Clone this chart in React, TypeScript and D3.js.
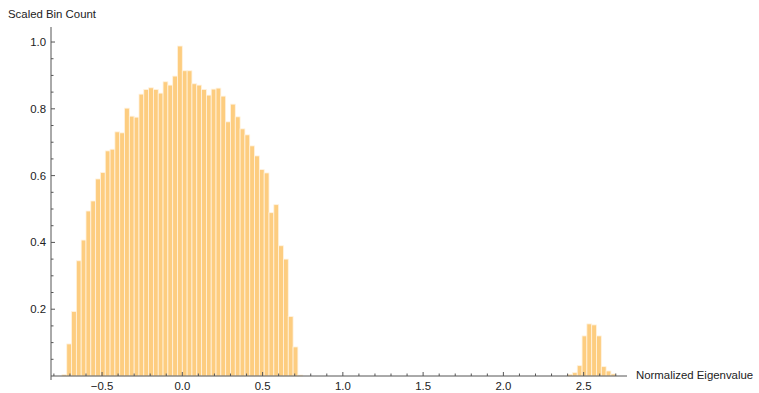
import * as d3 from 'd3';

// histogram bins: width 0.03, lower edges start at these values
const binWidth = 0.03;
const bulkStart = -0.75;
const bulkCounts = [
  0.004, 0.096, 0.193, 0.345, 0.407, 0.494, 0.524, 0.59, 0.609, 0.674,
  0.679, 0.731, 0.728, 0.802, 0.778, 0.775, 0.844, 0.858, 0.863, 0.858,
  0.847, 0.881, 0.871, 0.898, 0.988, 0.914, 0.914, 0.875, 0.871, 0.858,
  0.841, 0.859, 0.862, 0.838, 0.761, 0.814, 0.776, 0.74, 0.722, 0.689,
  0.659, 0.618, 0.608, 0.489, 0.513, 0.39, 0.35, 0.178, 0.087, 0.003,
];
const outlierStart = 2.4;
const outlierCounts = [0.005, 0.01, 0.031, 0.12, 0.156, 0.153, 0.12, 0.028, 0.015, 0.006];

const xMajor = [-0.5, 0, 0.5, 1, 1.5, 2, 2.5];
const yMajor = [0.2, 0.4, 0.6, 0.8, 1.0];

const W = 759;
const H = 393;
const font = '"Liberation Sans", Arial, sans-serif';
const axisColor = '#555';
const fs = 11.4;

const App = () => {
  const x = d3.scaleLinear().domain([-0.818, 2.77]).range([51, 627]);
  const y = d3.scaleLinear().domain([0, 1.045]).range([376, 27]);

  const bins = [
    ...bulkCounts.map((v, i) => ({ x0: bulkStart + i * binWidth, v })),
    ...outlierCounts.map((v, i) => ({ x0: outlierStart + i * binWidth, v })),
  ];

  const xMinor = d3.range(-8, 28).map((k) => k / 10).filter((t) => t >= -0.8 && t <= 2.75);
  const yMinor = d3.range(1, 21).map((k) => k * 0.05);
  const fmt = (t: number) => (t < 0 ? '\u2212' : '') + d3.format('.1f')(Math.abs(t));

  return (
    <svg
      width={W}
      height={H}
      style={{ position: 'absolute', left: 0, top: 0, background: '#fff' }}
      fontFamily={font}
    >
      <g>
        {bins.map((b, i) => (
          <rect
            key={i}
            x={x(b.x0)}
            y={y(b.v)}
            width={x(b.x0 + binWidth) - x(b.x0)}
            height={y(0) - y(b.v)}
            fill="#fdcd80"
            stroke="#fff3e0"
            strokeWidth={0.8}
          />
        ))}
      </g>

      {/* x axis */}
      <line x1={x.range()[0]} x2={x.range()[1]} y1={y(0)} y2={y(0)} stroke={axisColor} strokeWidth={1} />
      {xMinor.map((t, i) => {
        const major = xMajor.some((m) => Math.abs(m - t) < 1e-6);
        return (
          <line key={i} x1={x(t)} x2={x(t)} y1={y(0)} y2={y(0) - (major ? 4 : 2.5)} stroke={axisColor} strokeWidth={1} />
        );
      })}
      {xMajor.map((t) => (
        <text key={t} x={x(t)} y={390} fontSize={fs} textAnchor="middle" fill="#222">
          {fmt(t)}
        </text>
      ))}

      {/* y axis */}
      <line x1={x.range()[0]} x2={x.range()[0]} y1={y.range()[0] + 4} y2={y.range()[1]} stroke={axisColor} strokeWidth={1} />
      {yMinor.map((t, i) => {
        const major = yMajor.some((m) => Math.abs(m - t) < 1e-6);
        return (
          <line key={i} x1={x.range()[0]} x2={x.range()[0] + (major ? 4 : 2.5)} y1={y(t)} y2={y(t)} stroke={axisColor} strokeWidth={1} />
        );
      })}
      {yMajor.map((t) => (
        <text key={t} x={46} y={y(t) + 4} fontSize={fs} textAnchor="end" fill="#222">
          {fmt(t)}
        </text>
      ))}

      <text x={8} y={18} fontSize={fs} fill="#222">Scaled Bin Count</text>
      <text x={636} y={379} fontSize={fs} fill="#222">Normalized Eigenvalue</text>
    </svg>
  );
};

export default App;
